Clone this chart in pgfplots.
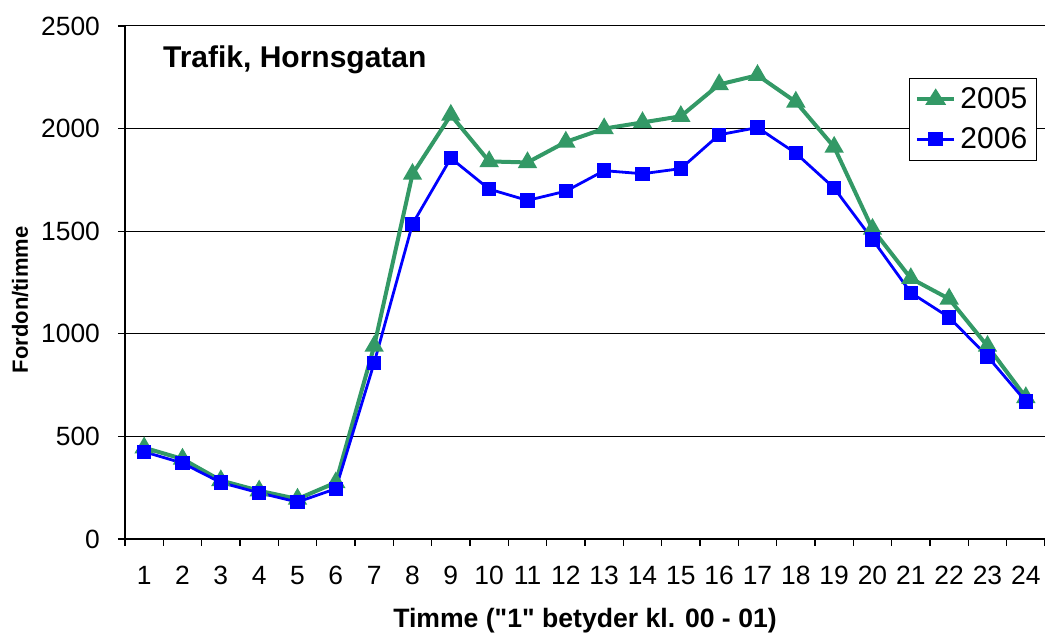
\documentclass[border=0pt]{standalone}
\usepackage{fontspec}
\setmainfont{Liberation Sans}
\newfontfamily\plainsans{Liberation Sans}
\usepackage{pgfplots}
\pgfplotsset{compat=1.18}
\definecolor{exgreen}{RGB}{51,153,102}
\definecolor{exblue}{RGB}{0,0,255}
\begin{document}
\begin{tikzpicture}
\begin{axis}[
  at={(0,0)}, anchor=south west,
  scale only axis, width=460pt, height=256.5pt,
  xmin=0.5, xmax=24.5, ymin=0, ymax=2500,
  axis x line*=bottom, axis y line*=left,
  axis line style={black, line width=0.6pt},
  xtick={1,...,24},
  minor xtick={0.5,1.5,...,24.5},
  major x tick style={draw=none},
  minor x tick style={black, line width=0.6pt},
  ytick={0,500,...,2500},
  ytick style={black, line width=0.6pt},
  tick align=outside,
  major tick length=3.5pt, minor tick length=3.5pt,
  ymajorgrids, grid style={black, line width=0.5pt},
  /pgf/number format/assume math mode=true,
  /pgf/number format/1000 sep={},
  tick label style={font=\fontsize{13.2}{15}\selectfont},
  xticklabel style={yshift=-6.5pt},
  yticklabel style={xshift=-5.5pt},
  xlabel={{\plainsans\bfseries Timme ("1" betyder kl. 00 - 01)}},
  xlabel style={font=\fontsize{13.3}{15}\selectfont, at={(axis description cs:0.5,-0.16)}, anchor=center},
  ylabel={\bfseries Fordon/timme},
  ylabel style={font=\fontsize{11}{13}\selectfont, at={(axis description cs:-0.114,0.466)}, anchor=center},
  legend style={at={(axis description cs:0.991,0.899)}, anchor=north east, draw=black, line width=0.5pt, font=\fontsize{15}{18}\selectfont, inner sep=2.5pt, row sep=4pt},
  legend image post style={xscale=1.1},
  legend cell align=left,
  clip=false,
]
\addplot[exgreen, line width=2pt, mark=triangle*, mark size=3.6pt, mark options={solid}] coordinates {
(1,445) (2,390) (3,285) (4,235) (5,195) (6,275) (7,940) (8,1778) (9,2066) (10,1840) (11,1835) (12,1935) (13,2000) (14,2030) (15,2060) (16,2215) (17,2260) (18,2130) (19,1910) (20,1510) (21,1270) (22,1170) (23,940) (24,690)
};
\addlegendentry{2005}
\addplot[exblue, line width=1.4pt, mark=square*, mark size=2.9pt, mark options={solid}] coordinates {
(1,425) (2,370) (3,275) (4,225) (5,180) (6,245) (7,858) (8,1535) (9,1856) (10,1705) (11,1650) (12,1695) (13,1795) (14,1780) (15,1805) (16,1970) (17,2005) (18,1880) (19,1710) (20,1460) (21,1200) (22,1080) (23,890) (24,670)
};
\addlegendentry{2006}
\node[anchor=west, inner sep=0pt, font=\fontsize{15}{18}\selectfont\bfseries] at (axis description cs:0.041,0.934) {Trafik, Hornsgatan};
\end{axis}
\pgfresetboundingbox
\useasboundingbox (-62.5pt,-48pt) rectangle (460pt,269.5pt);
\end{tikzpicture}
\end{document}
